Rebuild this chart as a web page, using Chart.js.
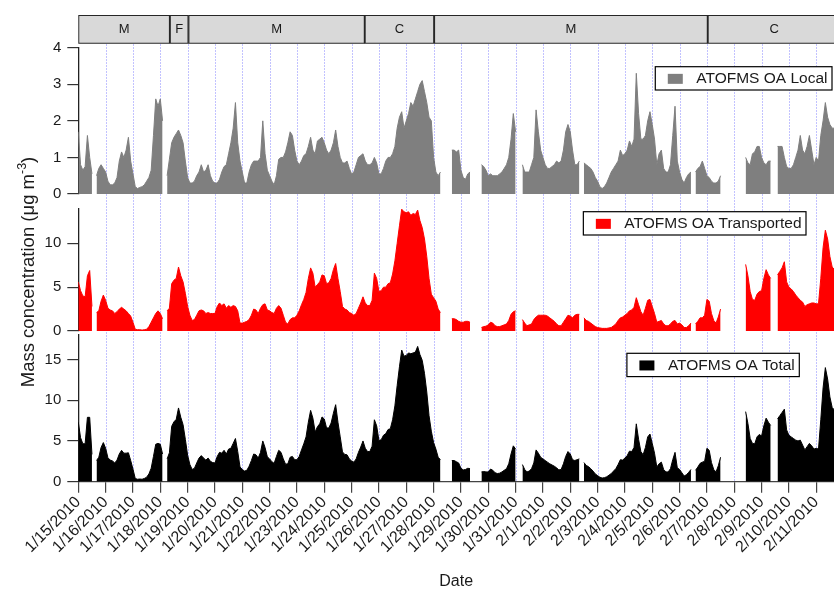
<!DOCTYPE html>
<html lang="en">
<head>
<meta charset="utf-8">
<title>ATOFMS organic aerosol mass concentrations</title>
<script src="https://cdn.jsdelivr.net/npm/chart.js@4.4.1/dist/chart.umd.min.js"></script>
<style>
  html, body { margin: 0; padding: 0; background: #ffffff; }
  #figure { position: relative; width: 834px; height: 590px; overflow: hidden; background: #ffffff; }
  #figure canvas { position: absolute; left: 0; top: 0; }
</style>
</head>
<body>
<div id="figure">
  <canvas id="periodBand" width="834" height="590"></canvas>
  <canvas id="localPanel" width="834" height="590"></canvas>
  <canvas id="transportedPanel" width="834" height="590"></canvas>
  <canvas id="totalPanel" width="834" height="590"></canvas>
</div>
<script>
// ---------------------------------------------------------------------------
// Data
// ---------------------------------------------------------------------------

// One tick per day on the shared time axis (day 0 = 1/15/2010 00:00)
const dateLabels = [
  '1/15/2010', '1/16/2010', '1/17/2010', '1/18/2010', '1/19/2010', '1/20/2010', '1/21/2010',
  '1/22/2010', '1/23/2010', '1/24/2010', '1/25/2010', '1/26/2010', '1/27/2010', '1/28/2010',
  '1/29/2010', '1/30/2010', '1/31/2010', '2/1/2010', '2/2/2010', '2/3/2010', '2/4/2010',
  '2/5/2010', '2/6/2010', '2/7/2010', '2/8/2010', '2/9/2010', '2/10/2010', '2/11/2010'
];

// Period flags shown in the strip above the panels (days since 1/15/2010 00:00)
const periodNames = ['M', 'F', 'M', 'C', 'M', 'C'];
const periodStart = [0, 3.35, 4.03, 10.48, 13.02, 23.03];
const periodEnd   = [3.35, 4.03, 10.48, 13.02, 23.03, 27.9];

const seriesNames = ['ATOFMS OA Local', 'ATOFMS OA Transported', 'ATOFMS OA Total'];

// 2-hour averages in µg m-3, one row per day (00:00 ... 22:00); null = no data
const localOA = [
  1.7, 0.8, 0.65, 0.75, 1.6, 1.0, 0.55, null, 0.5, 0.7, 0.8, 0.7,        // 1/15
  0.6, 0.35, 0.25, 0.25, 0.3, 0.45, 0.9, 1.15, 1.0, 1.2, 1.55, 0.9,     // 1/16
  0.55, 0.2, 0.15, 0.18, 0.2, 0.25, 0.35, 0.45, 0.65, 1.6, 2.6, 2.4,    // 1/17
  2.6, 2.0, null, 0.5, 0.95, 1.4, 1.55, 1.65, 1.75, 1.6, 1.4, 0.9,      // 1/18
  0.45, 0.3, 0.3, 0.35, 0.5, 0.6, 0.8, 0.6, 0.65, 0.8, 0.5, 0.35,       // 1/19
  0.3, 0.3, 0.4, 0.6, 0.75, 0.8, 1.1, 1.4, 1.8, 2.5, 1.4, 0.9,          // 1/20
  0.6, 0.3, 0.3, 0.6, 0.8, 0.9, 0.9, 0.9, 1.0, 2.0, 1.1, 0.65,          // 1/21
  0.5, 0.35, 0.25, 0.5, 0.95, 1.0, 1.0, 1.15, 1.4, 1.7, 1.6, 1.2,       // 1/22
  0.9, 0.8, 0.9, 1.05, 1.1, 1.3, 1.55, 1.2, 1.1, 1.45, 1.5, 1.55,       // 1/23
  1.4, 1.2, 1.1, 1.2, 1.4, 1.75, 1.3, 1.0, 0.85, 0.85, 0.9, 0.7,        // 1/24
  0.55, 0.6, 0.8, 1.0, 1.05, 1.1, 0.9, 0.8, 0.8, 0.85, 1.0, 0.85,       // 1/25
  0.55, 0.55, 0.7, 0.9, 1.0, 1.0, 1.1, 1.3, 1.8, 2.1, 2.25, 1.8,        // 1/26
  2.0, 2.2, 2.5, 2.4, 2.6, 2.8, 3.0, 3.1, 2.8, 2.5, 2.1, 2.0,           // 1/27
  1.0, 0.6, 0.5, 0.6, null, null, null, null, 1.2, 1.2, 1.15, 1.2,      // 1/28
  0.65, 0.45, 0.4, 0.55, 0.6, null, null, null, null, 0.8, 0.75, 0.65,  // 1/29
  0.5, 0.55, 0.5, 0.5, 0.5, 0.55, 0.6, 0.7, 0.8, 1.0, 1.5, 2.2,         // 1/30
  1.7, null, null, 0.8, 0.6, 0.6, 0.6, 0.8, 1.0, 2.3, 1.7, 1.2,         // 1/31
  1.0, 0.8, 0.7, 0.7, 0.75, 0.8, 0.9, 0.85, 0.9, 1.2, 1.7, 1.9,         // 2/1
  1.7, 1.2, 0.8, 0.8, 0.9, null, 0.85, 0.8, 0.75, 0.7, 0.6, 0.45,       // 2/2
  0.35, 0.2, 0.15, 0.2, 0.3, 0.45, 0.6, 0.7, 0.8, 0.9, 1.2, 1.05,       // 2/3
  1.1, 1.2, 1.45, 1.3, 1.5, 3.3, 2.2, 1.5, 1.5, 1.6, 2.0, 2.25,         // 2/4
  1.9, 1.5, 0.8, 1.1, 1.2, 0.7, 0.6, 0.6, 0.8, 1.6, 2.4, 0.9,           // 2/5
  0.6, 0.4, 0.3, 0.45, 0.55, 0.6, null, 0.6, 0.7, 0.75, 0.9, 0.7,       // 2/6
  0.5, 0.45, 0.35, 0.3, 0.3, 0.35, 0.5, null, null, null, null, null,   // 2/7
  null, null, null, null, null, 1.0, 0.85, 0.8, 1.1, 1.15, 1.3, 1.3,    // 2/8
  1.0, 0.85, 0.8, 0.9, 0.9, null, null, 1.3, 1.3, 1.3, 1.0, 0.75,       // 2/9
  0.7, 0.7, 0.8, 1.0, 1.2, 1.6, 1.2, 1.1, 1.3, 1.6, 1.2, 0.8,           // 2/10
  1.0, 0.9, 1.6, 2.0, 2.5, 2.1, 1.9, 1.8, 1.8                           // 2/11
];

const transportedOA = [
  5.6, 4.6, 4.0, 3.9, 6.3, 6.9, 2.8, null, 2.1, 2.3, 3.4, 4.1,          // 1/15
  3.5, 2.6, 2.4, 2.3, 2.0, 2.2, 2.5, 2.7, 2.5, 2.3, 2.0, 1.7,           // 1/16
  1.0, 0.2, 0.15, 0.15, 0.1, 0.15, 0.2, 0.5, 1.0, 1.5, 2.0, 2.3,        // 1/17
  2.0, 1.4, null, 2.3, 2.6, 5.4, 5.8, 6.0, 7.3, 6.3, 5.6, 4.3,          // 1/18
  2.8, 1.8, 1.2, 1.3, 1.8, 2.3, 2.4, 2.3, 2.0, 2.1, 2.0, 2.0,           // 1/19
  2.0, 2.8, 3.2, 2.9, 3.1, 2.6, 2.9, 2.7, 2.9, 2.8, 2.3, 0.9,           // 1/20
  0.9, 1.0, 1.1, 1.3, 1.8, 2.5, 2.4, 2.0, 2.6, 3.0, 3.1, 2.4,           // 1/21
  2.3, 2.1, 2.0, 2.6, 2.9, 2.6, 1.8, 1.0, 0.8, 1.3, 1.5, 1.5,           // 1/22
  1.8, 2.3, 3.0, 3.6, 4.4, 6.0, 7.2, 6.6, 5.0, 5.3, 5.6, 6.4,           // 1/23
  6.3, 5.4, 5.5, 6.0, 7.0, 7.7, 6.0, 4.5, 2.8, 2.5, 2.4, 2.1,           // 1/24
  2.0, 1.8, 2.0, 2.6, 3.2, 3.9, 3.2, 2.9, 2.9, 3.5, 6.6, 6.0,           // 1/25
  4.5, 4.6, 5.0, 5.0, 5.4, 5.5, 6.5, 8.0, 10.0, 12.0, 13.9, 13.6,       // 1/26
  13.5, 13.6, 13.2, 13.4, 13.3, 13.8, 12.6, 11.8, 10.5, 8.5, 6.0, 4.2,  // 1/27
  3.8, 3.4, 2.5, 2.1, null, null, null, null, 1.4, 1.4, 1.3, 1.1,       // 1/28
  1.0, 1.0, 1.1, 1.1, 1.0, null, null, null, null, 0.4, 0.5, 0.55,      // 1/29
  0.7, 1.0, 0.9, 0.6, 0.5, 0.5, 0.6, 0.7, 0.8, 1.2, 1.9, 2.2,           // 1/30
  2.3, null, null, 1.3, 0.9, 0.6, 0.7, 0.8, 1.3, 1.6, 1.8, 1.8,         // 1/31
  1.8, 1.8, 1.7, 1.5, 1.3, 1.1, 0.8, 0.6, 0.6, 1.0, 1.4, 1.8,           // 2/1
  1.7, 1.5, 1.8, 1.9, 1.9, null, 1.5, 1.2, 1.1, 0.9, 0.7, 0.5,          // 2/2
  0.4, 0.35, 0.3, 0.3, 0.3, 0.35, 0.4, 0.6, 0.8, 1.2, 1.5, 1.6,         // 2/3
  1.8, 2.0, 2.3, 2.4, 2.7, 3.8, 3.0, 2.2, 1.8, 2.6, 3.5, 3.6,           // 2/4
  2.8, 2.0, 1.0, 1.1, 1.2, 0.8, 0.6, 0.6, 0.8, 1.1, 1.2, 0.8,           // 2/5
  0.9, 0.7, 0.4, 0.4, 0.6, 0.9, null, 0.8, 1.1, 1.5, 1.5, 1.8,          // 2/6
  3.6, 3.4, 2.0, 1.2, 0.9, 1.6, 2.5, null, null, null, null, null,      // 2/7
  null, null, null, null, null, 7.6, 6.3, 4.5, 3.6, 3.5, 4.2, 4.5,      // 2/8
  4.6, 6.0, 7.0, 6.4, 6.0, null, null, 6.4, 6.8, 7.2, 7.9, 5.6,         // 2/9
  5.0, 4.8, 4.5, 4.1, 3.8, 3.5, 3.3, 2.8, 3.0, 3.1, 3.2, 3.2,           // 2/10
  3.1, 3.1, 6.0, 9.5, 11.5, 10.5, 8.5, 7.3, 7.0                         // 2/11
];

const totalOA = [
  7.3, 5.4, 4.65, 4.65, 7.9, 7.9, 3.35, null, 2.6, 3.0, 4.2, 4.8,       // 1/15
  4.1, 2.95, 2.65, 2.55, 2.3, 2.65, 3.4, 3.85, 3.5, 3.5, 3.55, 2.6,     // 1/16
  1.55, 0.4, 0.3, 0.33, 0.3, 0.4, 0.55, 0.95, 1.65, 3.1, 4.6, 4.7,      // 1/17
  4.6, 3.4, null, 2.8, 3.55, 6.8, 7.35, 7.65, 9.05, 7.9, 7.0, 5.2,      // 1/18
  3.25, 2.1, 1.5, 1.65, 2.3, 2.9, 3.2, 2.9, 2.65, 2.9, 2.5, 2.35,       // 1/19
  2.3, 3.1, 3.6, 3.5, 3.85, 3.4, 4.0, 4.1, 4.7, 5.3, 3.7, 1.8,          // 1/20
  1.5, 1.3, 1.4, 1.9, 2.6, 3.4, 3.3, 2.9, 3.6, 5.0, 4.2, 3.05,          // 1/21
  2.8, 2.45, 2.25, 3.1, 3.85, 3.6, 2.8, 2.15, 2.2, 3.0, 3.1, 2.7,       // 1/22
  2.7, 3.1, 3.9, 4.65, 5.5, 7.3, 8.75, 7.8, 6.1, 6.75, 7.1, 7.95,       // 1/23
  7.7, 6.6, 6.6, 7.2, 8.4, 9.45, 7.3, 5.5, 3.65, 3.35, 3.3, 2.8,        // 1/24
  2.55, 2.4, 2.8, 3.6, 4.25, 5.0, 4.1, 3.7, 3.7, 4.35, 7.6, 6.85,       // 1/25
  5.05, 5.15, 5.7, 5.9, 6.4, 6.5, 7.6, 9.3, 11.8, 14.1, 16.15, 15.4,    // 1/26
  15.5, 15.8, 15.7, 15.8, 15.9, 16.6, 15.6, 14.9, 13.3, 11.0, 8.1, 6.2, // 1/27
  4.8, 4.0, 3.0, 2.7, null, null, null, null, 2.6, 2.6, 2.45, 2.3,      // 1/28
  1.65, 1.45, 1.5, 1.65, 1.6, null, null, null, null, 1.2, 1.25, 1.2,   // 1/29
  1.2, 1.55, 1.4, 1.1, 1.0, 1.05, 1.2, 1.4, 1.6, 2.2, 3.4, 4.4,         // 1/30
  4.0, null, null, 2.1, 1.5, 1.2, 1.3, 1.6, 2.3, 3.9, 3.5, 3.0,         // 1/31
  2.8, 2.6, 2.4, 2.2, 2.05, 1.9, 1.7, 1.45, 1.5, 2.2, 3.1, 3.7,         // 2/1
  3.4, 2.7, 2.6, 2.7, 2.8, null, 2.35, 2.0, 1.85, 1.6, 1.3, 0.95,       // 2/2
  0.75, 0.55, 0.45, 0.5, 0.6, 0.8, 1.0, 1.3, 1.6, 2.1, 2.7, 2.65,       // 2/3
  2.9, 3.2, 3.75, 3.7, 4.2, 7.1, 5.2, 3.7, 3.3, 4.2, 5.5, 5.85,         // 2/4
  4.7, 3.5, 1.8, 2.2, 2.4, 1.5, 1.2, 1.2, 1.6, 2.7, 3.6, 1.7,           // 2/5
  1.5, 1.1, 0.7, 0.85, 1.15, 1.5, null, 1.4, 1.8, 2.25, 2.4, 2.5,       // 2/6
  4.1, 3.85, 2.35, 1.5, 1.2, 1.95, 3.0, null, null, null, null, null,   // 2/7
  null, null, null, null, null, 8.6, 7.15, 5.3, 4.7, 4.65, 5.5, 5.8,    // 2/8
  5.6, 6.85, 7.8, 7.3, 6.9, null, null, 7.7, 8.1, 8.5, 8.9, 6.35,       // 2/9
  5.7, 5.5, 5.3, 5.1, 5.0, 5.1, 4.5, 3.9, 4.3, 4.7, 4.4, 4.0,           // 2/10
  4.1, 4.0, 7.6, 11.5, 14.0, 12.6, 10.4, 9.1, 8.8                       // 2/11
];

// Axis ranges of the three panels (local, transported, total)
const panelMax  = [4, 14, 18];
const panelStep = [1, 5, 5];

// ---------------------------------------------------------------------------
// Layout and styling
// ---------------------------------------------------------------------------
const SAMPLE_HOURS = 2;
const X_MAX = 27.65;               // right edge of the time axis, in days
const CANVAS_H = 590;
const PLOT_LEFT = 78.3;            // left edge of every plot area
const FONT = '"Liberation Sans", Arial, Helvetica, sans-serif';
const INK = '#1a1a1a';

Chart.defaults.font.family = FONT;
Chart.defaults.color = INK;

const toPoints = values => values.map((v, i) => ({ x: i * SAMPLE_HOURS / 24, y: v }));

// Dotted day grid running behind all three panels
const dayGridPlugin = {
  id: 'dayGrid',
  beforeDatasetsDraw(chart, args, o) {
    const { ctx } = chart;
    const xs = chart.scales.x;
    ctx.save();
    ctx.strokeStyle = o.color;
    ctx.lineWidth = 1;
    ctx.setLineDash([1, 2]);
    for (let d = 1; d < dateLabels.length; d++) {
      const px = Math.round(xs.getPixelForValue(d)) + 0.5;
      ctx.beginPath();
      ctx.moveTo(px, o.top);
      ctx.lineTo(px, o.bottom);
      ctx.stroke();
    }
    ctx.restore();
  }
};

// Letters centred in each period box
const periodLabelPlugin = {
  id: 'periodLabels',
  afterDatasetsDraw(chart, args, o) {
    const { ctx } = chart;
    const meta = chart.getDatasetMeta(0);
    ctx.save();
    ctx.font = `${o.size}px ${FONT}`;
    ctx.fillStyle = INK;
    ctx.textAlign = 'center';
    ctx.textBaseline = 'middle';
    meta.data.forEach((bar, i) => {
      ctx.fillText(periodNames[i], (bar.x + bar.base) / 2, bar.y + 0.5);
    });
    ctx.restore();
  }
};

// Boxed key inside each panel
const panelKeyPlugin = {
  id: 'panelKey',
  afterDatasetsDraw(chart, args, o) {
    const { ctx, chartArea } = chart;
    const ds = chart.data.datasets[0];
    ctx.save();
    ctx.font = `${o.size}px ${FONT}`;
    const tw = ctx.measureText(ds.label).width;
    const w = 41 + tw + 4.5;
    const h = 23.3;
    const right = chartArea.right - o.rightInset;
    const top = chartArea.top + o.topInset;
    const left = right - w;
    ctx.fillStyle = '#ffffff';
    ctx.fillRect(left, top, w, h);
    ctx.strokeStyle = '#000000';
    ctx.lineWidth = 1.2;
    ctx.strokeRect(left, top, w, h);
    ctx.fillStyle = ds.backgroundColor;
    ctx.fillRect(left + 12.5, top + h / 2 - 4.5, 15, 10);
    ctx.fillStyle = INK;
    ctx.textAlign = 'left';
    ctx.textBaseline = 'middle';
    ctx.fillText(ds.label, left + 41, top + h / 2 + 0.5);
    ctx.restore();
  }
};

// Shared vertical axis title with superscript unit exponent
const yTitlePlugin = {
  id: 'yTitle',
  afterDraw(chart, args, o) {
    const { ctx } = chart;
    const main = `${o.size}px ${FONT}`;
    const small = `${o.supSize}px ${FONT}`;
    ctx.save();
    ctx.translate(o.x, o.y);
    ctx.rotate(-Math.PI / 2);
    ctx.fillStyle = INK;
    ctx.textAlign = 'left';
    ctx.textBaseline = 'alphabetic';
    ctx.font = main;
    const w1 = ctx.measureText(o.pre).width;
    const w3 = ctx.measureText(o.post).width;
    ctx.font = small;
    const w2 = ctx.measureText(o.sup).width;
    let cx = -(w1 + w2 + w3) / 2;
    ctx.font = main;
    ctx.fillText(o.pre, cx, 0);
    cx += w1;
    ctx.font = small;
    ctx.fillText(o.sup, cx, -o.size * 0.42);
    cx += w2;
    ctx.font = main;
    ctx.fillText(o.post, cx, 0);
    ctx.restore();
  }
};

function yAxis(idx) {
  return {
    min: 0,
    max: panelMax[idx],
    afterFit(scale) { scale.width = PLOT_LEFT; },
    ticks: { stepSize: panelStep[idx], includeBounds: false, padding: 6, font: { size: 15 }, color: INK },
    grid: { drawOnChartArea: false, tickLength: 11, color: '#333333', lineWidth: 1.2 },
    border: { display: true, color: '#222222', width: 1.3 }
  };
}

function areaDataset(idx, values, color) {
  return {
    label: seriesNames[idx],
    data: toPoints(values),
    backgroundColor: color,
    borderColor: color,
    borderWidth: 1,
    fill: 'origin',
    pointRadius: 0,
    tension: 0,
    spanGaps: false
  };
}

function panelChart(canvasId, idx, values, color, top, bottomPad, key, showX) {
  const xScale = showX ? {
    type: 'linear', min: 0, max: X_MAX,
    afterFit(scale) { scale.height = CANVAS_H - 481.7; },
    ticks: {
      stepSize: 1, autoSkip: false, includeBounds: false,
      minRotation: 45, maxRotation: 45, padding: 0,
      font: { size: 16 }, color: INK,
      callback: v => dateLabels[Math.round(v)] ?? ''
    },
    grid: { drawOnChartArea: false, tickLength: 11, color: '#444444', lineWidth: 1.2 },
    border: { display: true, color: '#444444', width: 1.3 },
    title: { display: true, text: 'Date', color: INK, font: { size: 16, lineHeight: 1 }, padding: { top: 0, bottom: 0 } }
  } : { type: 'linear', min: 0, max: X_MAX, display: false };

  const plugins = [panelKeyPlugin];
  if (showX) plugins.push(yTitlePlugin);

  return new Chart(document.getElementById(canvasId), {
    type: 'line',
    data: { datasets: [areaDataset(idx, values, color)] },
    options: {
      responsive: false,
      animation: false,
      devicePixelRatio: 1,
      layout: { padding: { left: 0, right: 0, top: top, bottom: bottomPad } },
      scales: { x: xScale, y: yAxis(idx) },
      plugins: {
        legend: { display: false },
        tooltip: { enabled: false },
        panelKey: key,
        yTitle: {
          x: 33.5, y: 272, size: 18.5, supSize: 12.5,
          pre: 'Mass concentration (\u03bcg m', sup: '-3', post: ')'
        }
      }
    },
    plugins: plugins
  });
}

// ---------------------------------------------------------------------------
// Period strip (also carries the day grid, drawn underneath the panels)
// ---------------------------------------------------------------------------
new Chart(document.getElementById('periodBand'), {
  type: 'bar',
  data: {
    labels: ['period'],
    datasets: [{
      data: periodStart.map((s, i) => ({ x: [s, periodEnd[i]], y: 'period' })),
      backgroundColor: '#d9d9d9',
      borderColor: '#262626',
      borderWidth: 1.3,
      borderSkipped: false,
      barPercentage: 1,
      categoryPercentage: 1
    }]
  },
  options: {
    indexAxis: 'y',
    responsive: false,
    animation: false,
    devicePixelRatio: 1,
    layout: { padding: { left: PLOT_LEFT, right: 0, top: 15, bottom: CANVAS_H - 43.7 } },
    scales: {
      x: { type: 'linear', min: 0, max: X_MAX, display: false },
      y: { type: 'category', display: false }
    },
    plugins: {
      legend: { display: false },
      tooltip: { enabled: false },
      dayGrid: { color: 'rgba(110, 110, 255, 0.85)', top: 44.5, bottom: 481.7 },
      periodLabels: { size: 13 }
    }
  },
  plugins: [dayGridPlugin, periodLabelPlugin]
});

// ---------------------------------------------------------------------------
// Concentration panels
// ---------------------------------------------------------------------------
panelChart('localPanel', 0, localOA, '#7f7f7f', 47.7, CANVAS_H - 194,
  { size: 15.5, rightInset: 2, topInset: 19 }, false);
panelChart('transportedPanel', 1, transportedOA, '#ff0000', 208.3, CANVAS_H - 331,
  { size: 15.5, rightInset: 28, topInset: 3.4 }, false);
panelChart('totalPanel', 2, totalOA, '#000000', 335, 0,
  { size: 15.5, rightInset: 34.7, topInset: 18.3 }, true);
</script>
</body>
</html>
